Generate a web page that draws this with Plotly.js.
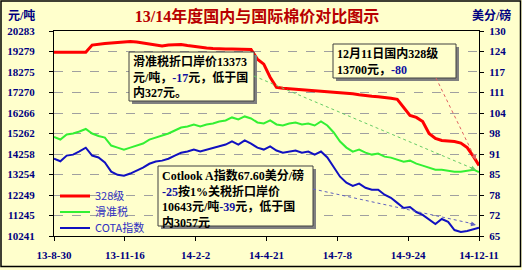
<!DOCTYPE html>
<html>
<head>
<meta charset="utf-8">
<script src="https://cdn.plot.ly/plotly-3.0.1.min.js"></script>
<style>
html,body{margin:0;padding:0;background:#FFFFCC;}
#chart{width:522px;height:270px;}
</style>
</head>
<body>
<div id="chart"></div>
<script>
// ---- data ----
const dates = [
 '2013-08-30','2013-09-06','2013-09-13','2013-09-20','2013-09-27','2013-10-04','2013-10-11','2013-10-18',
 '2013-10-25','2013-11-01','2013-11-08','2013-11-15','2013-11-22','2013-11-29','2013-12-06','2013-12-13',
 '2013-12-20','2013-12-27','2014-01-03','2014-01-10','2014-01-17','2014-01-24','2014-01-31','2014-02-07',
 '2014-02-14','2014-02-21','2014-02-28','2014-03-07','2014-03-14','2014-03-21','2014-03-28','2014-04-04',
 '2014-04-11','2014-04-18','2014-04-25','2014-05-02','2014-05-09','2014-05-16','2014-05-23','2014-05-30',
 '2014-06-06','2014-06-13','2014-06-20','2014-06-27','2014-07-04','2014-07-11','2014-07-18','2014-07-25',
 '2014-08-01','2014-08-08','2014-08-15','2014-08-22','2014-08-29','2014-09-05','2014-09-12','2014-09-19',
 '2014-09-26','2014-10-03','2014-10-10','2014-10-17','2014-10-24','2014-10-31','2014-11-07','2014-11-14',
 '2014-11-21','2014-11-28','2014-12-05','2014-12-11'
];
// 328级 (元/吨)
const price328 = [
 19240,19240,19240,19240,19240,19240,19594,19643,19668,19692,19717,19741,19766,19741,19692,19643,
 19569,19545,19594,19618,19618,19569,19520,19471,19446,19422,19397,19397,19397,19397,19397,19372,
 18905,18659,18018,17526,17477,17452,17442,17427,17403,17378,17363,17329,17304,17280,17255,17206,
 17157,17108,17083,17059,17034,16985,16936,16541,16148,16049,15852,15262,15016,14917,14893,14868,
 14794,14572,14129,13700
];
// 滑准税 (元/吨)
const priceSliding = [
 15089,14966,15212,15262,15360,15483,15262,15138,15065,14671,14572,14474,14572,14671,14769,14966,
 15065,15163,15262,15409,15557,15606,15705,15606,15705,15754,15852,15902,16049,15951,16098,16000,
 15803,15754,15902,15705,15655,15754,15803,15705,15754,15655,15852,15655,15311,14868,14572,14375,
 14474,14326,14228,14277,14129,14080,13982,13883,13932,13785,13686,13588,13489,13489,13440,13391,
 13391,13440,13489,13373
];
// COTA指数 (美分/磅)
const cotaIndex = [
 89.5,88.7,90.5,90.8,91.8,93.0,90.5,89.9,88.3,85.4,84.4,84.1,84.8,85.7,86.7,87.9,
 88.6,88.9,89.5,90.5,91.4,91.8,92.4,91.8,92.4,93.0,93.4,94.0,95.0,94.0,95.3,94.3,
 93.0,92.4,93.4,92.1,91.4,91.8,92.1,91.4,91.8,90.8,91.8,89.9,87.0,83.8,81.9,80.9,
 81.6,80.3,79.7,79.7,78.1,77.1,75.5,73.9,74.2,72.6,71.7,70.1,68.8,70.4,69.5,66.9,
 66.3,66.6,67.2,67.6
];
const seriesNames = ['328级','滑准税','COTA指数'];
const leftTickVals = [10241,11245,12249,13254,14258,15262,16266,17270,18275,19279,20283];
const rightTickVals = [65,71.5,78,84.5,91,97.5,104,110.5,117,123.5,130];
const rightTickText = ['65','72','78','85','91','98','104','111','117','124','130'];
const xTickVals = ['2013-08-30','2013-11-16','2014-02-02','2014-04-21','2014-07-08','2014-09-24','2014-12-11'];
const xTickText = ['13-8-30','13-11-16','14-2-2','14-4-21','14-7-8','14-9-24','14-12-11'];

// ---- layout helpers (pixel -> paper) ----
const L = 54, R = 479, T = 31, B = 236;
const px = x => (x - L) / (R - L);
const py = y => (B - y) / (B - T);

const serif = "'Liberation Serif', 'Noto Sans CJK SC', serif";
const navy = '#000080';
const tickFont = {family: serif, size: 11, color: navy, weight: 'bold'};
const boxFont = {family: serif, size: 12, color: '#000000', weight: 'bold'};
const hl = t => '<span style="color:#1010A0">' + t + '</span>';

const traces = [
 {x: dates, y: price328, name: seriesNames[0], type: 'scatter', mode: 'lines',
  line: {color: '#FF0000', width: 3}, yaxis: 'y', legend: 'legend'},
 {x: dates, y: priceSliding, name: seriesNames[1], type: 'scatter', mode: 'lines',
  line: {color: '#33F033', width: 2}, yaxis: 'y', legend: 'legend2'},
 {x: dates, y: cotaIndex, name: seriesNames[2], type: 'scatter', mode: 'lines',
  line: {color: '#1010C0', width: 2}, yaxis: 'y2', legend: 'legend3'}
];

function box(x0, y0, x1, y1) {
  return [
    {type: 'rect', xref: 'paper', yref: 'paper', x0: px(x0 + 3), x1: px(x1 + 3), y0: py(y0 + 3), y1: py(y1 + 3),
     fillcolor: '#808080', line: {width: 0}, layer: 'above'},
    {type: 'rect', xref: 'paper', yref: 'paper', x0: px(x0), x1: px(x1), y0: py(y0), y1: py(y1),
     fillcolor: '#FFFFCC', line: {color: '#404040', width: 1}, layer: 'above'}
  ];
}
function dotted(x0, y0, x1, y1, c) {
  return {type: 'line', xref: 'paper', yref: 'paper', x0: px(x0), y0: py(y0), x1: px(x1), y1: py(y1),
          line: {color: c, width: 1, dash: 'dot'}, layer: 'above'};
}
function head(x0, y0, x1, y1, c) {
  const dx = x0 - x1, dy = y0 - y1, d = Math.sqrt(dx*dx + dy*dy);
  return {xref: 'paper', yref: 'paper', x: px(x1), y: py(y1), ax: dx / d * 8, ay: dy / d * 8,
          text: '', showarrow: true, arrowhead: 2, arrowsize: 1, arrowwidth: 1, arrowcolor: c,
          standoff: 0, startstandoff: 0};
}

const shapes = [].concat(
  box(129, 52, 254, 101),
  box(333, 44, 456, 78),
  box(158, 166, 313, 226),
  [dotted(254, 76, 474, 169, '#66CC66'),
   dotted(436, 78, 475, 158, '#E06060'),
   dotted(313, 189, 474, 224, '#6060C0'),
   {type: 'rect', xref: 'paper', yref: 'paper', x0: px(1), x1: px(520.5), y0: py(1), y1: py(266.5),
    line: {color: '#000000', width: 1.5}, fillcolor: 'rgba(0,0,0,0)', layer: 'above'}]
);

const annotations = [
  {xref: 'paper', yref: 'paper', x: px(21), y: py(16), text: '元/吨', showarrow: false,
   xanchor: 'center', yanchor: 'middle', font: {family: serif, size: 12, color: navy, weight: 'bold'}},
  {xref: 'paper', yref: 'paper', x: px(491), y: py(16), text: '美分/磅', showarrow: false,
   xanchor: 'center', yanchor: 'middle', font: {family: serif, size: 12, color: navy, weight: 'bold'}},
  {xref: 'paper', yref: 'paper', x: px(132), y: py(53), xanchor: 'left', yanchor: 'top', align: 'left',
   showarrow: false, borderpad: 0, font: boxFont,
   text: '滑准税折口岸价13373<br>元/吨，' + hl('-17') + '元，低于国<br>内327元。'},
  {xref: 'paper', yref: 'paper', x: px(336), y: py(45), xanchor: 'left', yanchor: 'top', align: 'left',
   showarrow: false, borderpad: 0, font: boxFont,
   text: '12月11日国内328级<br>13700元，' + hl('-80')},
  {xref: 'paper', yref: 'paper', x: px(161), y: py(167), xanchor: 'left', yanchor: 'top', align: 'left',
   showarrow: false, borderpad: 0, font: boxFont,
   text: 'Cotlook A指数67.60美分/磅<br>' + hl('-25') + '按1%关税折口岸价<br>10643元/吨' + hl('-39') + '元，低于国<br>内3057元'},
  head(254, 76, 476, 170, '#66CC66'),
  head(436, 78, 476, 160, '#E06060'),
  head(313, 189, 476, 225, '#6060C0')
];

const legendFont = {family: "'Noto Sans CJK SC', sans-serif", size: 11, color: '#3030C0'};
function legendAt(cy) {
  return {x: px(55), y: py(cy), xanchor: 'left', yanchor: 'middle', bgcolor: 'rgba(0,0,0,0)',
          borderwidth: 0, itemwidth: 30, font: legendFont};
}

const layout = {
  width: 522, height: 270,
  margin: {l: L, r: 522 - R, t: T, b: 270 - B, pad: 0},
  paper_bgcolor: '#FFFFCC', plot_bgcolor: '#FFFFCC',
  showlegend: true,
  title: {text: '13/14年度国内与国际棉价对比图示', x: 257 / 522, y: 1 - 16 / 270,
          xanchor: 'center', yanchor: 'middle', xref: 'container', yref: 'container',
          font: {family: serif, size: 16, color: '#B80000', weight: 'bold'}},
  xaxis: {type: 'date', range: [dates[0], dates[dates.length - 1]],
          tickvals: xTickVals, ticktext: xTickText, tickfont: tickFont,
          showline: true, linecolor: '#000000', linewidth: 1, mirror: true,
          ticks: 'outside', ticklen: 4, tickcolor: '#000000', ticklabelstandoff: 5,
          showgrid: false, zeroline: false, fixedrange: true},
  yaxis: {range: [leftTickVals[0], leftTickVals[leftTickVals.length - 1]],
          tickvals: leftTickVals, ticktext: leftTickVals.map(String), tickfont: tickFont,
          showline: true, linecolor: '#000000', linewidth: 1, mirror: true,
          ticks: 'outside', ticklen: 4, tickcolor: '#000000', ticklabelstandoff: 12,
          showgrid: true, gridcolor: '#A0A0A0', gridwidth: 1, griddash: 'dash',
          zeroline: false, fixedrange: true},
  yaxis2: {overlaying: 'y', side: 'right', range: [rightTickVals[0], rightTickVals[rightTickVals.length - 1]],
           tickvals: rightTickVals, ticktext: rightTickText, tickfont: tickFont,
           showline: true, linecolor: '#000000', linewidth: 1,
           ticks: 'outside', ticklen: 4, tickcolor: '#000000', ticklabelstandoff: 3,
           showgrid: false, zeroline: false, fixedrange: true},
  legend: legendAt(196),
  legend2: legendAt(212),
  legend3: legendAt(228),
  shapes: shapes,
  annotations: annotations
};

Plotly.newPlot('chart', traces, layout, {displayModeBar: false, staticPlot: true});
</script>
</body>
</html>
